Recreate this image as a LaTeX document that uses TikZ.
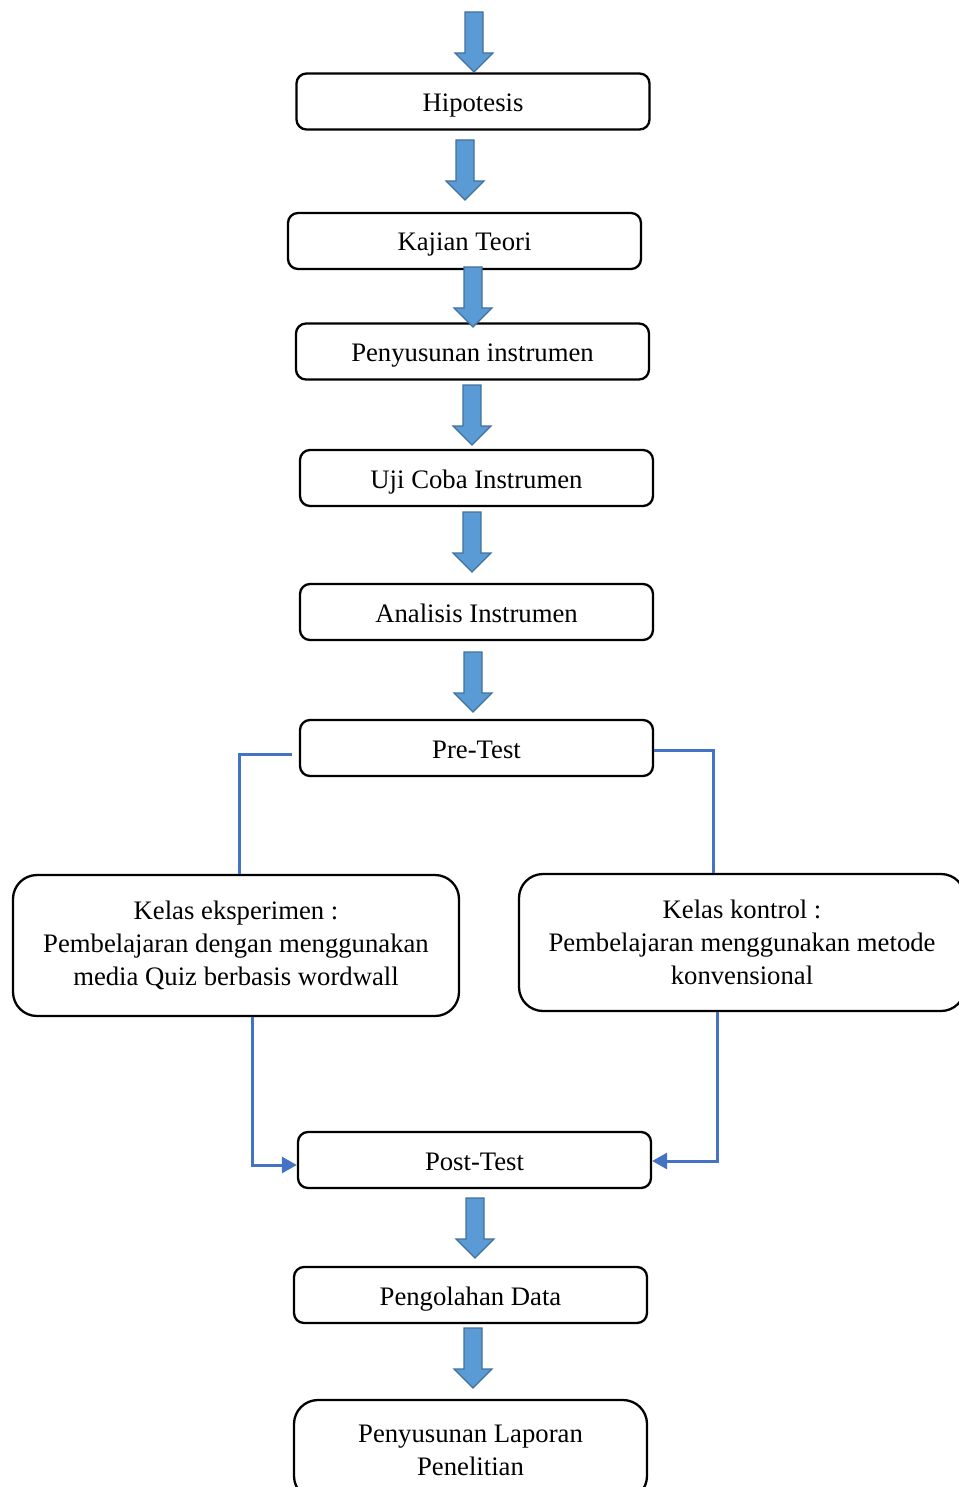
\documentclass[tikz,border=0pt]{standalone}
\usepackage{fontspec}
\setmainfont{Liberation Serif}
\usetikzlibrary{calc,arrows.meta}
\newcommand\blockarr[2]{%
  \draw[barrow] (#1-9,#2) -- (#1+9,#2) -- (#1+9,#2+41) -- (#1+19,#2+41) -- (#1,#2+60) -- (#1-19,#2+41) -- (#1-9,#2+41) -- cycle;}
\begin{document}
\begin{tikzpicture}[x=1pt,y=-1pt,
  box/.style={draw=black, line width=2.3pt, rounded corners=10pt, fill=white,
    minimum width=353pt, minimum height=56pt, align=center, inner sep=0pt,
    font=\fontsize{26.7}{33}\selectfont},
  onebox/.style={box, text height=20pt, text depth=0pt},
  bigbox/.style={box, rounded corners=24pt},
  barrow/.style={fill={rgb,255:red,91;green,155;blue,213}, draw={rgb,255:red,65;green,113;blue,156}, line width=1.2pt},
  conn/.style={draw={rgb,255:red,68;green,114;blue,196}, line width=3pt},
  connarr/.style={conn, -{Triangle[length=15pt,width=16pt]}}]
\useasboundingbox (0,0) rectangle (958,1487);

\node[onebox] (hip) at (473,101.5) {Hipotesis};
\node[onebox] (kaj) at (464.5,241) {Kajian Teori};
\node[onebox] (pen) at (472.5,351.5) {Penyusunan instrumen};
\node[onebox] (uji) at (476.5,478) {Uji Coba Instrumen};
\node[onebox] (ana) at (476.5,612) {Analisis Instrumen};
\node[onebox] (pre) at (476.5,748) {Pre-Test};
\node[bigbox, minimum width=446pt, minimum height=141pt] (eks) at (236,945.5)
  {Kelas eksperimen :\\Pembelajaran dengan menggunakan\\media Quiz berbasis wordwall};
\node[bigbox, minimum width=446pt, minimum height=137pt] (kon) at (742,942.5)
  {Kelas kontrol :\\Pembelajaran menggunakan metode\\konvensional};
\node[onebox] (post) at (474.5,1160) {Post-Test};
\node[onebox] (olah) at (470.5,1295) {Pengolahan Data};
\node[bigbox, minimum width=353pt, minimum height=100pt] (lap) at (470.5,1450)
  {Penyusunan Laporan\\Penelitian};

\blockarr{474}{12}
\blockarr{465}{140}
\blockarr{473}{267}
\blockarr{472}{385}
\blockarr{472}{512}
\blockarr{473}{652}
\blockarr{475}{1198}
\blockarr{473}{1328}

\draw[conn] ($(pre.west)+(-7,6)$) -| ($(eks.north)+(3,0)$);
\draw[conn] ($(pre.east)+(0,2)$) -| ($(kon.north)+(-29,0)$);
\draw[connarr] ($(eks.south)+(16,0)$) |- ($(post.west)+(0,5)$);
\draw[connarr] ($(kon.south)+(-25,0)$) |- ($(post.east)+(0,1)$);
\end{tikzpicture}
\end{document}
